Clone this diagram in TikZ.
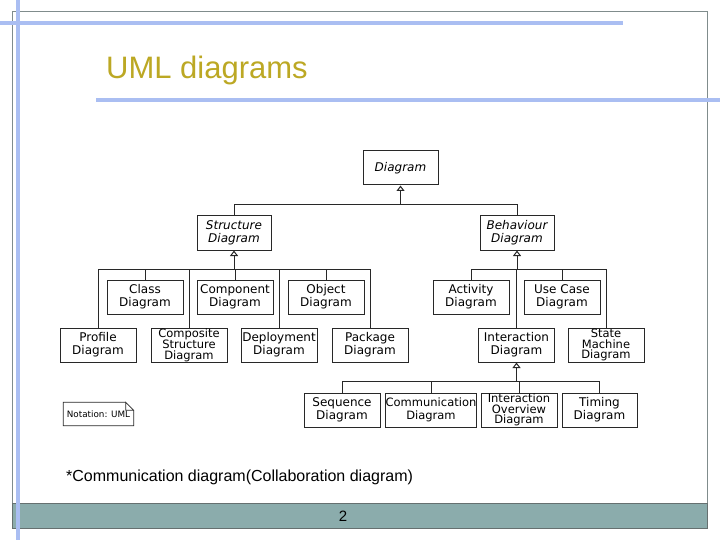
\documentclass[tikz,border=0pt]{standalone}
\usepackage{fontspec}
\usetikzlibrary{arrows.meta}
\newfontfamily\boxfont{DejaVu Sans}
\newfontfamily\slidefont{Liberation Sans}
\definecolor{slideblue}{RGB}{170,190,242}
\definecolor{framegray}{RGB}{128,140,140}
\definecolor{bargreen}{RGB}{139,172,172}
\definecolor{titleolive}{RGB}{188,168,36}
\definecolor{umlline}{RGB}{40,40,40}
\begin{document}
\begin{tikzpicture}[x=1pt,y=-1pt,
	uml/.style={draw=umlline,line width=1pt,minimum width=76,minimum height=34,
		inner sep=0pt,align=center,font=\boxfont\fontsize{12}{13}\selectfont},
	umlit/.style={uml,font=\boxfont\itshape\fontsize{12}{13}\selectfont},
	umltri/.style={uml,font=\boxfont\fontsize{11.5}{10.3}\selectfont},
	link/.style={draw=umlline,line width=1pt},
	gen/.style={link,-{Triangle[open,width=8pt,length=5.5pt]}}]
	\useasboundingbox (0,0) rectangle (720,540);
	% slide frame
	\draw [framegray,line width=1pt] (12,503) -- (12,12) -- (707,12) -- (707,503);
	\draw [fill=bargreen,draw=framegray!80!black,line width=1pt] (12,503) rectangle (707,528);
	\draw [slideblue,line width=4pt] (0,23) -- (623,23);
	\draw [slideblue,line width=4pt] (96,100) -- (720,100);
	\draw [slideblue,line width=4pt] (18,0) -- (18,540);
	\node [anchor=base west,text=titleolive,inner sep=0pt,
		font=\slidefont\fontsize{31}{31}\selectfont] (title) at (106,79) {UML diagrams};
	% top levels
	\node [umlit,minimum width=75] (diag) at (400.5,168) {Diagram};
	\node [umlit,minimum width=74] (struct) at (234,233) {Structure\\Diagram};
	\node [umlit,minimum width=74] (behav) at (517,233) {Behaviour\\Diagram};
	% structure diagrams
	\node [uml] (class) at (145,297) {Class\\Diagram};
	\node [uml] (comp) at (235,297) {Component\\Diagram};
	\node [uml] (object) at (326,297) {Object\\Diagram};
	\node [uml] (profile) at (98,345) {Profile\\Diagram};
	\node [umltri] (compos) at (189,345) {Composite\\Structure\\Diagram};
	\node [uml] (deploy) at (279,345) {Deployment\\Diagram};
	\node [uml] (package) at (370,345) {Package\\Diagram};
	% behaviour diagrams
	\node [uml] (activity) at (471,297) {Activity\\Diagram};
	\node [uml] (usecase) at (562,297) {Use Case\\Diagram};
	\node [uml] (inter) at (516.5,345) {Interaction\\Diagram};
	\node [umltri] (state) at (606,345) {State\\Machine\\Diagram};
	% interaction diagrams
	\node [uml] (seq) at (342,410) {Sequence\\Diagram};
	\node [uml,minimum width=91,font=\boxfont\fontsize{11.5}{13}\selectfont] (commun) at (431,410) {Communication\\Diagram};
	\node [umltri] (iover) at (519,410) {Interaction\\Overview\\Diagram};
	\node [uml,minimum width=75] (timing) at (599.5,410) {Timing\\Diagram};
	% buses
	\coordinate (dbus) at ([yshift=-19pt]diag.south);
	\coordinate (sbus) at ([yshift=-19pt]struct.south);
	\coordinate (bbus) at ([yshift=-19pt]behav.south);
	\coordinate (ibus) at ([yshift=-19pt]inter.south);
	\draw [gen] (dbus) -- (diag.south);
	\draw [gen] (sbus) -- (struct.south);
	\draw [gen] (bbus) -- (behav.south);
	\draw [gen] (ibus) -- (inter.south);
	\foreach \n in {struct,behav}
		\draw [link] (\n.north) |- (dbus);
	\foreach \n in {class,comp,object,profile,compos,deploy,package}
		\draw [link] (\n.north) |- (sbus);
	\foreach \n in {activity,usecase,inter,state}
		\draw [link] (\n.north) |- (bbus);
	\foreach \n in {seq,commun,iover,timing}
		\draw [link] (\n.north) |- (ibus);
	% note
	\node [inner sep=0pt,minimum width=70,minimum height=23,
		font=\boxfont\fontsize{8.8}{9}\selectfont] (note) at (98.5,414) {Notation: UML};
	\draw [draw=umlline,line width=.8pt] ([xshift=-8pt]note.north east) -- (note.north west)
		|- (note.south east) -- ([yshift=-8pt]note.north east) -- ([xshift=-8pt]note.north east)
		|- ([yshift=-8pt]note.north east);
	% footer
	\node [anchor=base west,inner sep=0pt,font=\slidefont\fontsize{16}{16}\selectfont]
		(foot) at (66,481) {*Communication diagram(Collaboration diagram)};
	\node [inner sep=0pt,font=\slidefont\fontsize{15}{15}\selectfont] (page) at (343,516) {2};
\end{tikzpicture}
\end{document}
